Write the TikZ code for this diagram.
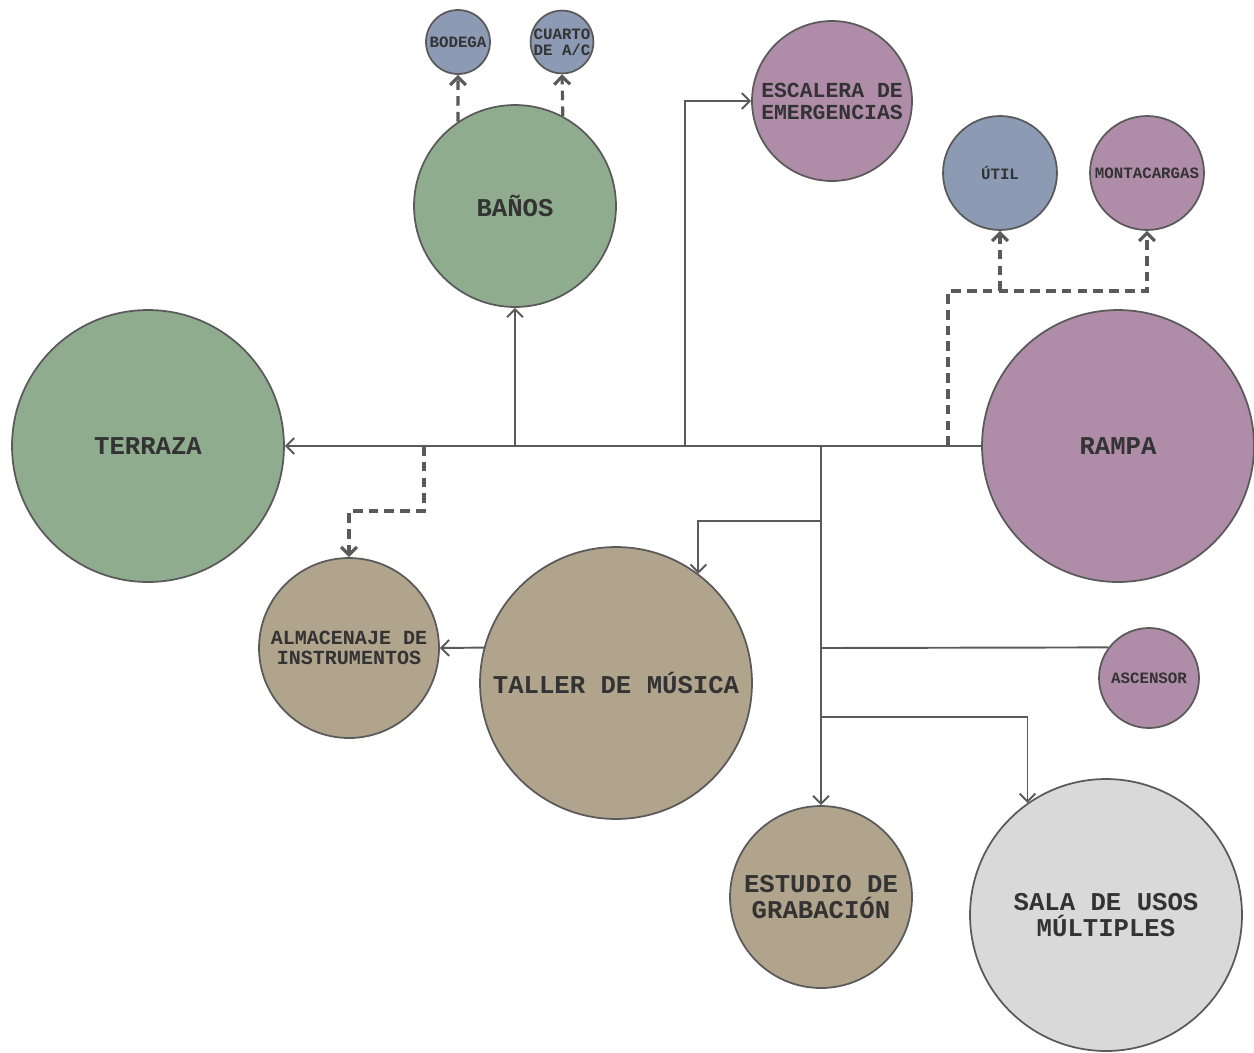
\documentclass[tikz,border=0pt]{standalone}
\usepackage{fontspec}
\setmonofont{Liberation Mono}
\usetikzlibrary{arrows.meta}
\definecolor{verde}{RGB}{143,172,143}
\definecolor{azul}{RGB}{140,154,180}
\definecolor{lila}{RGB}{175,141,168}
\definecolor{arena}{RGB}{176,164,140}
\definecolor{gris}{RGB}{217,217,217}
\definecolor{trazo}{RGB}{90,90,90}
\definecolor{letra}{RGB}{51,51,51}
\begin{document}
\begin{tikzpicture}[x=0.02cm,y=-0.02cm,>={Straight Barb[length=4.5pt,width=9pt]},
  room/.style={circle,draw=trazo,line width=1pt,text=letra,align=center,inner sep=0pt,font=\ttfamily\bfseries},
  big/.style={room,minimum size=5.44cm,font=\ttfamily\bfseries\fontsize{14.6}{15}\selectfont},
  mid/.style={room,font=\ttfamily\bfseries\fontsize{14.6}{14.4}\selectfont},
  small/.style={room,font=\ttfamily\bfseries\fontsize{9}{9.2}\selectfont},
  link/.style={draw=trazo,line width=1.1pt,->},
  dlink/.style={draw=trazo,line width=1.8pt,dash pattern=on 5.5pt off 3.5pt,->}]
 \useasboundingbox (0,0) rectangle (1254,1052);
 % rooms
 \node[big,fill=verde] (terraza) at (148,446) {TERRAZA};
 \node[big,fill=lila] (rampa) at (1118,446) {RAMPA};
 \node[big,fill=arena] (taller) at (616,683) {TALLER DE MÚSICA};
 \node[big,fill=gris] (sala) at (1106,915) {SALA DE USOS\\MÚLTIPLES};
 \node[mid,fill=verde,minimum size=4.04cm] (banos) at (515,206) {BAÑOS};
 \node[mid,fill=arena,minimum size=3.64cm] (estudio) at (821,897) {ESTUDIO DE\\GRABACIÓN};
 \node[room,fill=lila,minimum size=3.2cm,font=\ttfamily\bfseries\fontsize{12.2}{12.5}\selectfont] (escalera) at (832,101) {ESCALERA DE\\EMERGENCIAS};
 \node[room,fill=arena,minimum size=3.6cm,font=\ttfamily\bfseries\fontsize{11.4}{11.4}\selectfont] (almacen) at (349,648) {ALMACENAJE DE\\INSTRUMENTOS};
 \node[small,fill=azul,minimum size=1.28cm] (bodega) at (458,42) {BODEGA};
 \node[small,fill=azul,minimum size=1.24cm] (cuarto) at (562,42) {CUARTO\\DE A/C};
 \node[small,fill=azul,minimum size=2.28cm] (util) at (1000,173) {ÚTIL};
 \node[small,fill=lila,minimum size=2.28cm] (monta) at (1147,173) {MONTACARGAS};
 \node[small,fill=lila,minimum size=2cm] (ascensor) at (1149,678) {ASCENSOR};
 % junctions
 \coordinate (jbanos) at (515,446);
 \coordinate (jesc) at (685,446);
 \coordinate (jalm) at (424,446);
 \coordinate (jramp) at (948,446);
 \coordinate (jut) at (1000,291);
 \coordinate (jest) at (821,446);
 \coordinate (jtal) at (821,521);
 \coordinate (jasc) at (821,648);
 \coordinate (jsala) at (821,717);
 % links
 \draw[link] (rampa.west) -- (terraza.east);
 \draw[link] (jbanos) -- (banos.south);
 \draw[link] (jesc) |- (escalera.west);
 \draw[link] (jest) -- (estudio.north);
 \draw[link] (jtal) -| (taller.53);
 \draw[link,-] (jasc) -- (ascensor.143);
 \draw[link] (jsala) -| (sala.125);
 \draw[link] (taller.165) -- (almacen.east);
 \draw[dlink] (jalm) -- (424,511) -| (almacen.north);
 \draw[dlink] (jramp) |- (jut) -| (monta.south);
 \draw[dlink] (jut) -- (util.south);
 \draw[dlink] (banos.124) -- (bodega.south);
 \draw[dlink] (banos.62) -- (cuarto.south);
\end{tikzpicture}
\end{document}
